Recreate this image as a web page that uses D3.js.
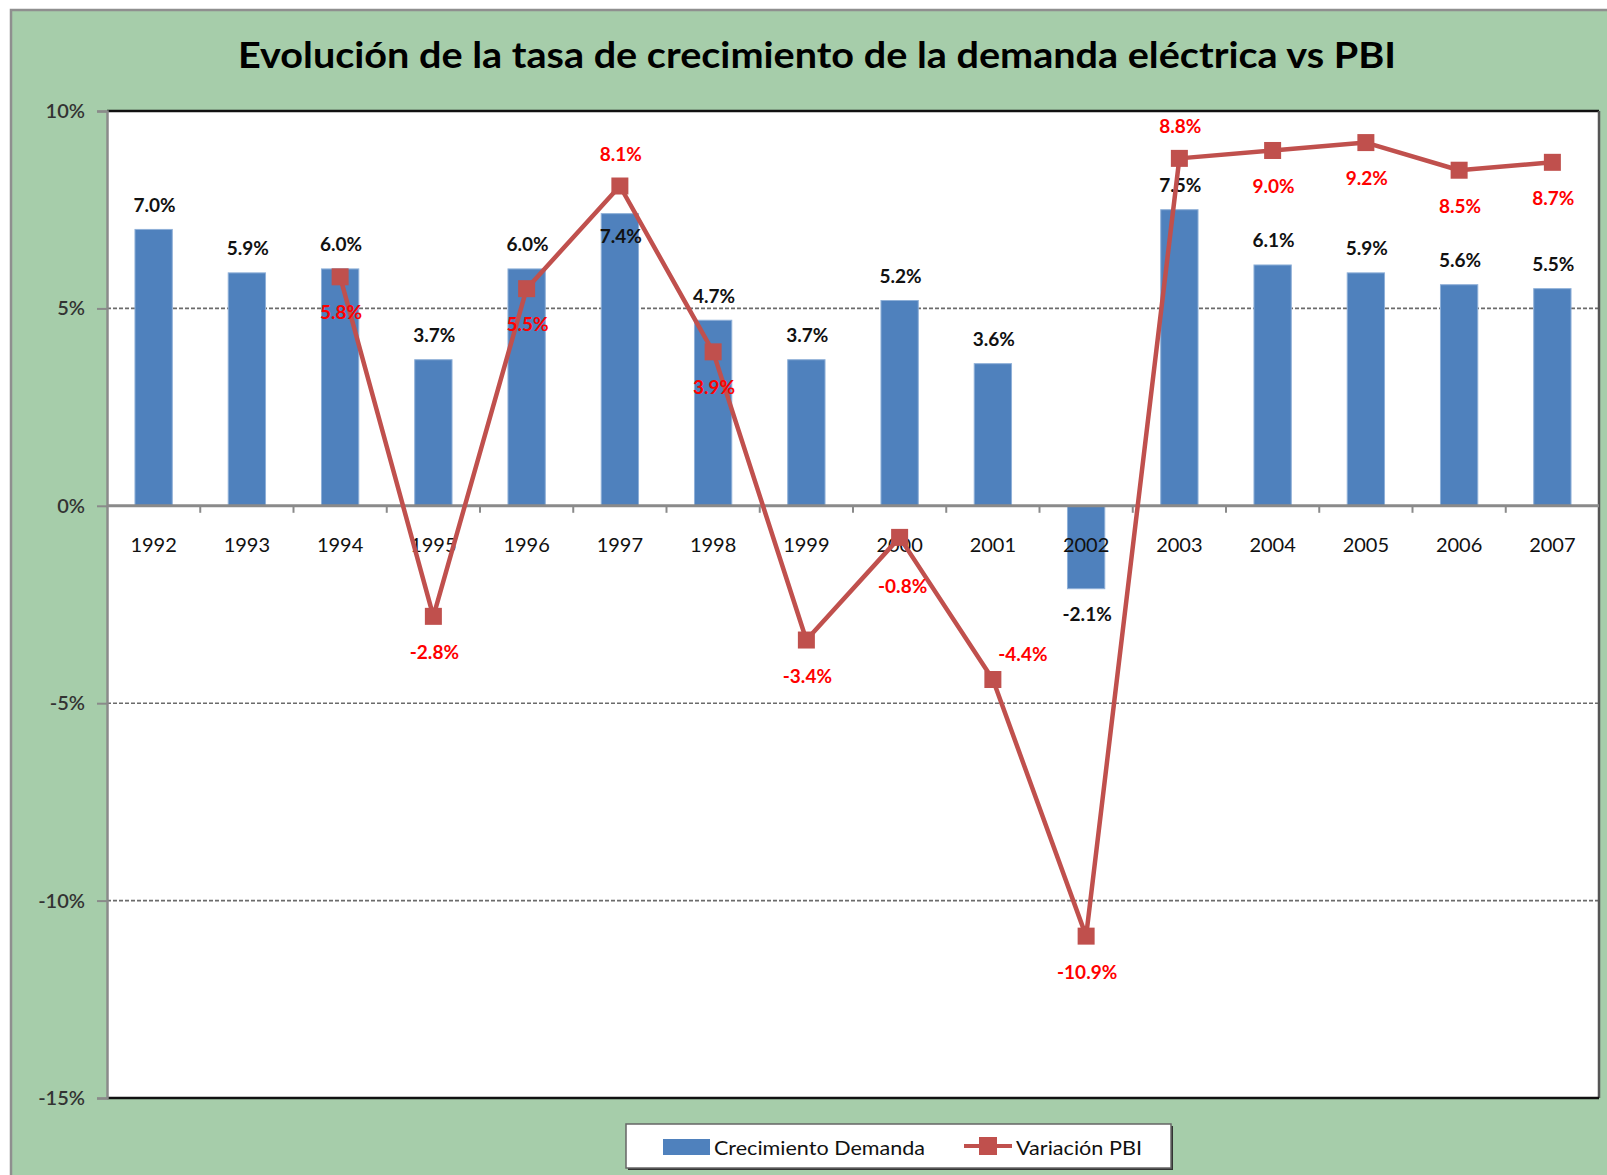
<!DOCTYPE html>
<html>
<head>
<meta charset="utf-8">
<script src="https://cdn.jsdelivr.net/npm/d3@7"></script>
<style>
  html, body { margin: 0; padding: 0; background: #ffffff; }
  svg { display: block; }
</style>
</head>
<body>
<svg id="chart" width="1607" height="1175"></svg>
<script>
// ---- data ----
const years = ["1992","1993","1994","1995","1996","1997","1998","1999","2000","2001","2002","2003","2004","2005","2006","2007"];
const demanda = [7.0, 5.9, 6.0, 3.7, 6.0, 7.4, 4.7, 3.7, 5.2, 3.6, -2.1, 7.5, 6.1, 5.9, 5.6, 5.5];
const pbi = [null, null, 5.8, -2.8, 5.5, 8.1, 3.9, -3.4, -0.8, -4.4, -10.9, 8.8, 9.0, 9.2, 8.5, 8.7];
const yTicks = [10, 5, 0, -5, -10, -15];
const gridValues = [5, -5, -10];
const titleText = "Evolución de la tasa de crecimiento de la demanda eléctrica vs PBI";
const seriesNames = ["Crecimiento Demanda", "Variación PBI"];

// label placement (Excel-like manual positions)
const barLabelPos = ["t","t","t","t","t","in","t","t","t","t","b","t","t","t","t","t"];
const pbiLabelPos = [null,null,"b","b","b","a","b","b","b2","ar","b","a","b","b","b","b"];

// ---- layout ----
const W = 1607, H = 1175;
const plot = { left: 107, right: 1599, top: 111, bottom: 1098 };
const BLUE = "#4F81BD", RED = "#C0504D", LABEL_RED = "#FF0000", GREEN = "#A6CDAA";
const FONT = "Lato, 'Open Sans', sans-serif";

const svg = d3.select("#chart");

// outer chart area
svg.append("rect").attr("x", 0).attr("y", 0).attr("width", W).attr("height", H).attr("fill", "#ffffff");
svg.append("rect").attr("x", 11).attr("y", 10).attr("width", W + 20).attr("height", H + 20)
  .attr("fill", GREEN).attr("stroke", "#8f8f8f").attr("stroke-width", 2.5);

// title
svg.append("text")
  .attr("x", 817).attr("y", 68)
  .attr("text-anchor", "middle")
  .attr("font-family", FONT).attr("font-weight", 700).attr("font-size", 36)
  .attr("fill", "#000")
  .attr("textLength", 1158).attr("lengthAdjust", "spacingAndGlyphs")
  .text(titleText);

// scales
const x = d3.scaleBand().domain(years).range([plot.left, plot.right]).paddingInner(0.6).paddingOuter(0.3);
const y = d3.scaleLinear().domain([-15, 10]).range([plot.bottom, plot.top]);
const cx = d => x(d) + x.bandwidth() / 2;

// plot area
svg.append("rect").attr("x", plot.left).attr("y", plot.top)
  .attr("width", plot.right - plot.left).attr("height", plot.bottom - plot.top)
  .attr("fill", "#ffffff");

// gridlines
svg.append("g").selectAll("line").data(gridValues).join("line")
  .attr("x1", plot.left).attr("x2", plot.right)
  .attr("y1", d => y(d)).attr("y2", d => y(d))
  .attr("stroke", "#6b6b6b").attr("stroke-width", 1.6).attr("stroke-dasharray", "4,2");

// plot border lines
svg.append("line").attr("x1", plot.left).attr("x2", plot.right).attr("y1", plot.top).attr("y2", plot.top)
  .attr("stroke", "#111").attr("stroke-width", 2.5);
svg.append("line").attr("x1", plot.right).attr("x2", plot.right).attr("y1", plot.top).attr("y2", plot.bottom)
  .attr("stroke", "#555").attr("stroke-width", 2.5);
svg.append("line").attr("x1", plot.left).attr("x2", plot.right).attr("y1", plot.bottom).attr("y2", plot.bottom)
  .attr("stroke", "#111").attr("stroke-width", 2.5);

// y axis
const yAxis = d3.axisLeft(y).tickValues(yTicks).tickSize(10).tickPadding(12).tickFormat(d => d + "%");
const gy = svg.append("g").attr("transform", `translate(${plot.left},0)`).call(yAxis);
gy.select(".domain").attr("stroke", "#8a8a8a").attr("stroke-width", 2.5);
gy.selectAll(".tick line").attr("stroke", "#8a8a8a").attr("stroke-width", 2);
gy.selectAll(".tick text").attr("font-family", FONT).attr("font-size", 20).attr("font-weight", 600)
  .attr("fill", "#333");

// bars
svg.append("g").selectAll("rect").data(years).join("rect")
  .attr("x", d => x(d))
  .attr("width", x.bandwidth())
  .attr("y", (d, i) => y(Math.max(0, demanda[i])))
  .attr("height", (d, i) => Math.abs(y(demanda[i]) - y(0)))
  .attr("fill", BLUE)
  .attr("stroke", "#8fb0d8").attr("stroke-width", 1);

// x axis at zero
const xBoundaries = d3.range(years.length + 1).map(i => plot.left + i * x.step());
svg.append("g").selectAll("line").data(xBoundaries.slice(1, -1)).join("line")
  .attr("x1", d => d).attr("x2", d => d)
  .attr("y1", y(0)).attr("y2", y(0) + 7)
  .attr("stroke", "#8a8a8a").attr("stroke-width", 2);
svg.append("line").attr("x1", plot.left).attr("x2", plot.right).attr("y1", y(0)).attr("y2", y(0))
  .attr("stroke", "#8a8a8a").attr("stroke-width", 3);

// year labels
svg.append("g").selectAll("text").data(years).join("text")
  .attr("x", d => cx(d)).attr("y", y(0) + 46)
  .attr("text-anchor", "middle")
  .attr("font-family", FONT).attr("font-size", 20).attr("fill", "#111")
  .text(d => d);

// bar labels
const barLabelOffset = { t: -25, in: 22, b: 25 };
svg.append("g").selectAll("text").data(years).join("text")
  .attr("x", d => cx(d) + 1)
  .attr("y", (d, i) => {
    const v = demanda[i];
    const pos = barLabelPos[i];
    return (pos === "b" ? y(v) : y(Math.max(0, v))) + barLabelOffset[pos];
  })
  .attr("dominant-baseline", "central")
  .attr("text-anchor", "middle")
  .attr("font-family", FONT).attr("font-weight", 700).attr("font-size", 19).attr("fill", "#111")
  .text((d, i) => demanda[i].toFixed(1) + "%");

// PBI line
const pts = years.map((d, i) => ({ year: d, v: pbi[i], pos: pbiLabelPos[i] })).filter(p => p.v !== null);
const line = d3.line().x(p => cx(p.year)).y(p => y(p.v));
svg.append("path").datum(pts).attr("d", line)
  .attr("fill", "none").attr("stroke", RED).attr("stroke-width", 4.5).attr("stroke-linejoin", "round");

const ms = 17;
svg.append("g").selectAll("rect").data(pts).join("rect")
  .attr("x", p => cx(p.year) - ms / 2).attr("y", p => y(p.v) - ms / 2)
  .attr("width", ms).attr("height", ms)
  .attr("fill", RED);

// PBI labels
const pbiOffset = { b: [1, 35], a: [1, -33], b2: [3, 48], ar: [30, -26] };
svg.append("g").selectAll("text").data(pts).join("text")
  .attr("x", p => cx(p.year) + pbiOffset[p.pos][0])
  .attr("y", p => y(p.v) + pbiOffset[p.pos][1])
  .attr("dominant-baseline", "central")
  .attr("text-anchor", "middle")
  .attr("font-family", FONT).attr("font-weight", 700).attr("font-size", 19).attr("fill", LABEL_RED)
  .text(p => p.v.toFixed(1) + "%");

// legend
const lg = svg.append("g");
lg.append("rect").attr("x", 628).attr("y", 1126).attr("width", 545).attr("height", 44).attr("fill", "#333");
lg.append("rect").attr("x", 626).attr("y", 1124).attr("width", 545).attr("height", 44)
  .attr("fill", "#ffffff").attr("stroke", "#666").attr("stroke-width", 1.5);
lg.append("rect").attr("x", 663).attr("y", 1139).attr("width", 47).attr("height", 16).attr("fill", BLUE);
lg.append("text").attr("x", 714).attr("y", 1147).attr("dominant-baseline", "central")
  .attr("font-family", FONT).attr("font-size", 20).attr("fill", "#111")
  .attr("textLength", 211).attr("lengthAdjust", "spacingAndGlyphs")
  .text(seriesNames[0]);
lg.append("line").attr("x1", 964).attr("x2", 1012).attr("y1", 1146).attr("y2", 1146)
  .attr("stroke", RED).attr("stroke-width", 4);
lg.append("rect").attr("x", 988 - 9).attr("y", 1146 - 9).attr("width", 18).attr("height", 18).attr("fill", RED);
lg.append("text").attr("x", 1016).attr("y", 1147).attr("dominant-baseline", "central")
  .attr("font-family", FONT).attr("font-size", 20).attr("fill", "#111")
  .attr("textLength", 126).attr("lengthAdjust", "spacingAndGlyphs")
  .text(seriesNames[1]);
</script>
</body>
</html>
